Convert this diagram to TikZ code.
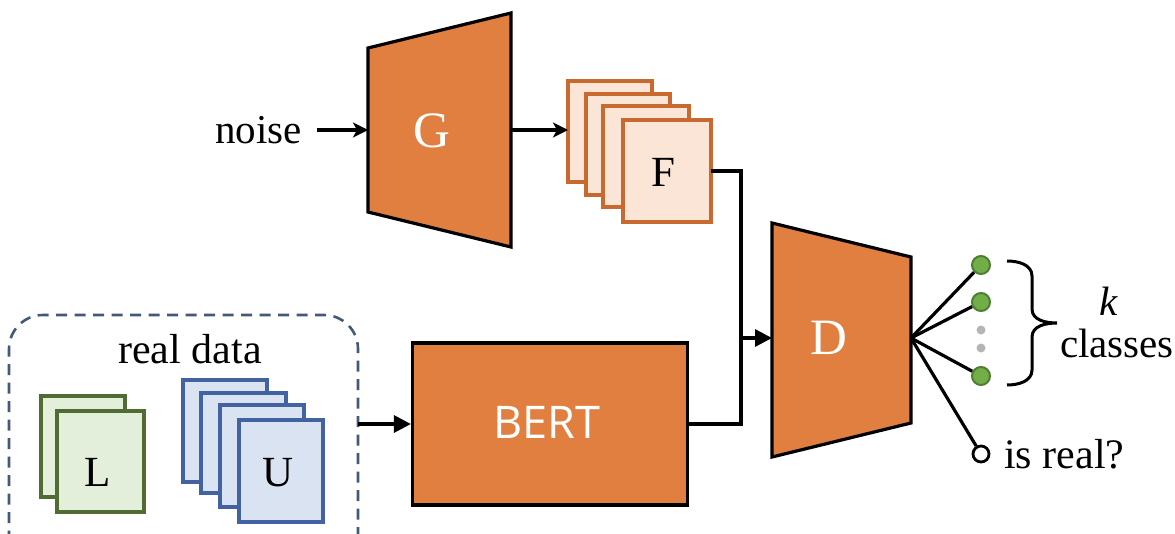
\documentclass[tikz,border=0pt]{standalone}
\usepackage{fontspec}
\setmainfont{Liberation Serif}
\newfontfamily\bertfont{Open Sans}
\usetikzlibrary{arrows.meta,calc}

\definecolor{netorange}{HTML}{E07F3F}
\definecolor{featfill}{HTML}{FAE5D6}
\definecolor{featline}{HTML}{C86A30}
\definecolor{labfill}{HTML}{E3EFDA}
\definecolor{labline}{HTML}{506C33}
\definecolor{unlfill}{HTML}{DAE3F1}
\definecolor{unlline}{HTML}{4262A0}
\definecolor{boxline}{HTML}{44597A}
\definecolor{outgreen}{HTML}{72AE48}
\definecolor{outgreenline}{HTML}{4F7D32}
\definecolor{dotgray}{HTML}{B5B5B5}

\tikzset{
  net/.style={fill=netorange, draw=black, line width=3.2pt, line join=miter},
  netlabel/.style={text=white, font=\fontsize{51}{51}\selectfont, inner sep=0pt},
  feat/.style={fill=featfill, draw=featline, line width=3.2pt},
  labsheet/.style={fill=labfill, draw=labline, line width=3.2pt},
  unlsheet/.style={fill=unlfill, draw=unlline, line width=3.2pt},
  txt/.style={font=\fontsize{41}{41}\selectfont, inner sep=0pt},
  letter/.style={font=\fontsize{43}{43}\selectfont, inner sep=0pt},
  wire/.style={line width=3.2pt},
  arr/.style={wire, -{Stealth[length=15pt,width=15pt,inset=4pt]}},
  tri/.style={wire, -{Triangle[length=17pt,width=17pt]}},
  outdot/.style={circle, fill=outgreen, draw=outgreenline, line width=2pt, minimum size=18pt, inner sep=0pt},
  graydot/.style={circle, fill=dotgray, minimum size=9pt, inner sep=0pt},
  opendot/.style={circle, fill=white, draw=black, line width=2.8pt, minimum size=16pt, inner sep=0pt},
}

\begin{document}
\begin{tikzpicture}[x=1pt, y=-1pt]
  \useasboundingbox (0,0) rectangle (1175,533);

  % generator
  \draw[net] (368,48) -- (511,13) -- (511,247) -- (368,212) -- cycle;
  \node[netlabel] (G) at (432,131) {G};
  \coordinate (Gin) at (368,130);
  \coordinate (Gout) at (511,130);
  \node[txt, anchor=east] (noise) at (302,130) {noise};
  \coordinate (nz) at (317,130);
  \draw[arr] (nz) -- (Gin);

  % generated feature sheets
  \draw[feat] (568,81) rectangle (652,182);
  \draw[feat] (586,94) rectangle (670,195);
  \draw[feat] (603,106) rectangle (689,207);
  \draw[feat] (623,120) rectangle (711,222);
  \node[letter] (F) at (663,172) {F};
  \coordinate (Fout) at (711,171);
  \coordinate (F0) at (568,130);
  \draw[arr] (Gout) -- (F0);

  % discriminator
  \draw[net] (772,223) -- (911,257) -- (911,423) -- (772,457) -- cycle;
  \node[netlabel] (D) at (829,338) {D};
  \coordinate (Din) at (772,338);
  \coordinate (Dout) at (911,338);
  \coordinate (J) at (741,338);

  % BERT encoder
  \node[fill=netorange, draw=black, line width=3.2pt, minimum width=275pt,
        minimum height=162pt, inner sep=0pt] (BERT) at (550,424) {};
  \node[text=white, inner sep=0pt, font=\bertfont\fontsize{45}{45}\selectfont]
    (bertname) at (547,422) {BERT};

  % real data group
  \draw[boxline, line width=2.6pt, dash pattern=on 11pt off 7.5pt, rounded corners=34pt]
    (9,560) -- (9,315) -- (358,315) -- (358,560);
  \node[txt, font=\fontsize{42}{42}\selectfont] (real) at (190,349) {real data};
  \coordinate (Rout) at (358,424);

  \draw[labsheet] (41,396) rectangle (125,497);
  \draw[labsheet] (57,411) rectangle (144,512);
  \node[letter] (L) at (98,472) {L};

  \draw[unlsheet] (183,380) rectangle (267,482);
  \draw[unlsheet] (201,393) rectangle (286,493);
  \draw[unlsheet] (220,405) rectangle (304,507);
  \draw[unlsheet] (239,420) rectangle (323,522);
  \node[letter] (U) at (278,473) {U};

  % connectors
  \draw[tri] (Rout) -- (BERT.west);
  \draw[wire] (Fout) -| (J);
  \draw[wire] (BERT.east) -| (J);
  \draw[tri] (J) -- (Din);

  % outputs
  \node[outdot] (o1) at (981,265) {};
  \node[outdot] (o2) at (981,302) {};
  \node[graydot] (g1) at (981,330) {};
  \node[graydot] (g2) at (981,348) {};
  \node[outdot] (o3) at (981,376) {};
  \node[opendot] (ro) at (981,454) {};
  \foreach \o in {o1,o2,o3,ro} \draw[wire] (Dout) -- (\o);

  \node[txt, font=\fontsize{42}{42}\selectfont, anchor=west] (isreal) at (1004,454) {is real?};

  % class brace
  \draw[line width=3pt]
    (1007,261) to[out=0,in=90] (1032,276) -- (1032,309)
    to[out=-90,in=180] (1057,323) to[out=180,in=90] (1032,337)
    -- (1032,370) to[out=-90,in=0] (1007,385);
  \node[txt] (k) at (1109,301) {\itshape k};
  \node[txt] (classes) at (1117,343) {classes};
\end{tikzpicture}
\end{document}
